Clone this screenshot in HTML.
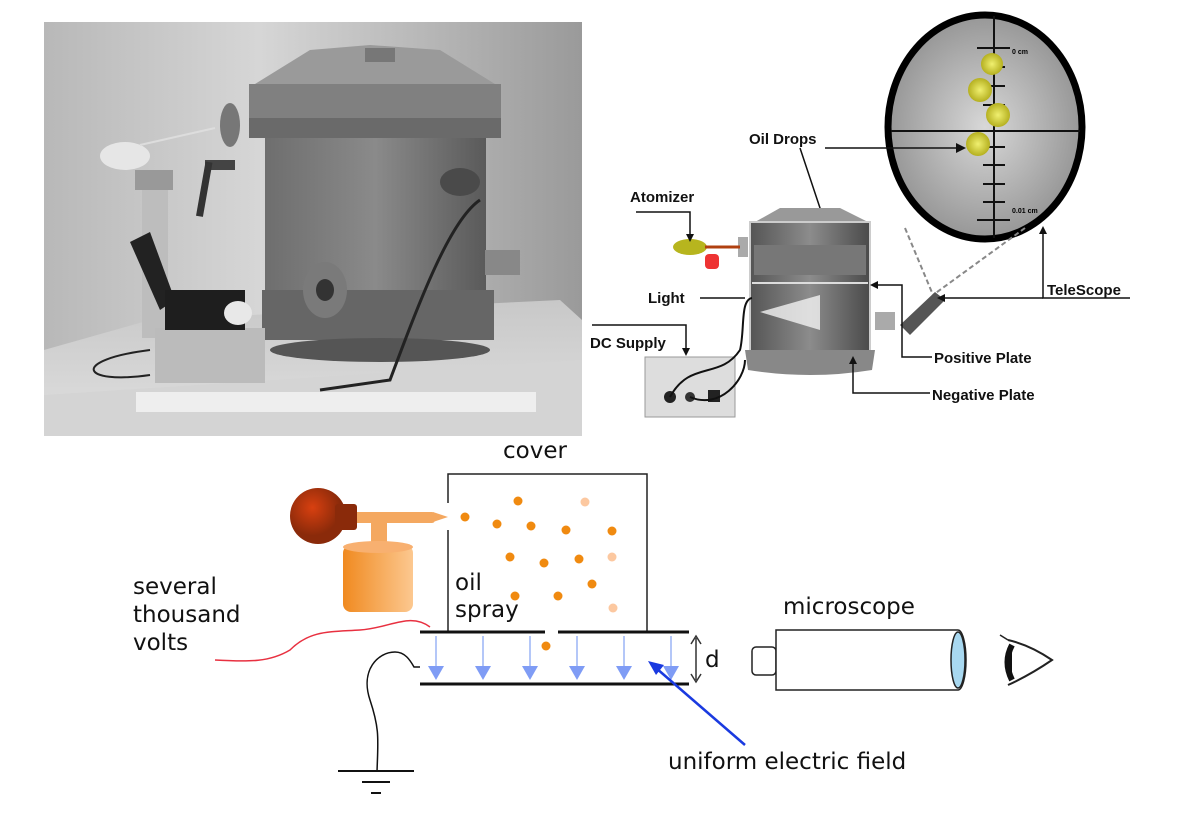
<!DOCTYPE html>
<html><head><meta charset="utf-8"><style>
html,body{margin:0;padding:0;background:#fff;}
svg{display:block;}
text{font-family:"Liberation Sans","DejaVu Sans",sans-serif;}
.b{font-family:"DejaVu Sans","Liberation Sans",sans-serif;font-size:23px;fill:#111;}
.l{font-weight:bold;font-size:15px;fill:#111;}
</style></head><body>
<svg width="1200" height="822" viewBox="0 0 1200 822" xmlns="http://www.w3.org/2000/svg">
<defs>
<linearGradient id="bg" x1="0" x2="1"><stop offset="0" stop-color="#b8b8b8"/><stop offset="0.4" stop-color="#d6d6d6"/><stop offset="1" stop-color="#9a9a9a"/></linearGradient>
<linearGradient id="cyl" x1="0" x2="1"><stop offset="0" stop-color="#6e6e6e"/><stop offset="0.5" stop-color="#8a8a8a"/><stop offset="1" stop-color="#5a5a5a"/></linearGradient>
<linearGradient id="tab" x1="0" y1="0" x2="0" y2="1"><stop offset="0" stop-color="#c8c8c8"/><stop offset="1" stop-color="#e0e0e0"/></linearGradient>
<radialGradient id="lens" cx="0.5" cy="0.5" r="0.6"><stop offset="0" stop-color="#d8d8d8"/><stop offset="1" stop-color="#8a8a8a"/></radialGradient>
<radialGradient id="drop"><stop offset="0" stop-color="#f0f070"/><stop offset="1" stop-color="#b5b020"/></radialGradient>
<radialGradient id="bulb" cx="0.4" cy="0.35"><stop offset="0" stop-color="#d84010"/><stop offset="1" stop-color="#8a2a0a"/></radialGradient>
<linearGradient id="can" x1="0" x2="1"><stop offset="0" stop-color="#f08a20"/><stop offset="1" stop-color="#fcc890"/></linearGradient>
<linearGradient id="ch" x1="0" x2="1"><stop offset="0" stop-color="#555"/><stop offset="0.5" stop-color="#8c8c8c"/><stop offset="1" stop-color="#4a4a4a"/></linearGradient>
</defs>

<!-- PHOTO -->
<rect x="44" y="22" width="538" height="414" fill="url(#bg)"/>
<polygon points="44,350 150,320 560,300 582,320 582,436 44,436" fill="url(#tab)"/>
<polygon points="44,395 582,360 582,436 44,436" fill="#d4d4d4"/>
<rect x="136" y="392" width="400" height="20" fill="#eee"/>
<rect x="249" y="84" width="252" height="44" fill="#808080"/>
<polygon points="255,84 310,50 370,45 440,50 495,84" fill="#9a9a9a"/>
<rect x="365" y="48" width="30" height="14" fill="#777"/>
<rect x="249" y="118" width="252" height="20" fill="#6a6a6a"/>
<rect x="265" y="138" width="221" height="200" fill="url(#cyl)"/>
<rect x="262" y="290" width="232" height="50" fill="#666"/>
<ellipse cx="380" cy="350" rx="110" ry="12" fill="#555"/>
<ellipse cx="230" cy="125" rx="10" ry="22" fill="#777"/>
<rect x="205" y="160" width="30" height="10" fill="#444"/>
<rect x="205" y="162" width="7" height="55" fill="#333" transform="rotate(10 208 165)"/>
<ellipse cx="125" cy="156" rx="25" ry="14" fill="#e6e6e6"/>
<line x1="140" y1="145" x2="215" y2="128" stroke="#ddd" stroke-width="2"/>
<rect x="142" y="178" width="26" height="160" fill="#bdbdbd"/>
<rect x="135" y="170" width="38" height="20" fill="#999"/>
<rect x="155" y="328" width="110" height="55" fill="#bbb"/>
<polygon points="130,242 150,232 175,300 160,310" fill="#222"/>
<rect x="165" y="290" width="80" height="40" fill="#1e1e1e"/>
<ellipse cx="238" cy="313" rx="14" ry="12" fill="#e8e8e8"/>
<ellipse cx="325" cy="290" rx="22" ry="28" fill="#7a7a7a"/>
<ellipse cx="325" cy="290" rx="9" ry="11" fill="#333"/>
<ellipse cx="460" cy="182" rx="20" ry="14" fill="#4a4a4a"/>
<rect x="485" y="250" width="35" height="25" fill="#888"/>
<path d="M480,200 C450,220 420,300 390,380 L320,390" fill="none" stroke="#222" stroke-width="3"/>
<path d="M150,350 C70,360 80,385 150,375" fill="none" stroke="#222" stroke-width="2"/>

<!-- RIGHT DIAGRAM -->
<ellipse cx="985" cy="127" rx="97" ry="112" fill="url(#lens)" stroke="#000" stroke-width="7"/>
<line x1="891" y1="131" x2="1080" y2="131" stroke="#111" stroke-width="2"/>
<line x1="994" y1="16" x2="994" y2="238" stroke="#111" stroke-width="2"/>
<g stroke="#111" stroke-width="2">
<line x1="977" y1="48" x2="1010" y2="48"/><line x1="983" y1="67" x2="1005" y2="67"/><line x1="983" y1="86" x2="1005" y2="86"/><line x1="983" y1="105" x2="1005" y2="105"/><line x1="983" y1="147" x2="1005" y2="147"/><line x1="983" y1="165" x2="1005" y2="165"/><line x1="983" y1="184" x2="1005" y2="184"/><line x1="983" y1="202" x2="1005" y2="202"/><line x1="977" y1="220" x2="1010" y2="220"/></g>
<circle cx="992" cy="64" r="11" fill="url(#drop)"/><circle cx="980" cy="90" r="12" fill="url(#drop)"/><circle cx="998" cy="115" r="12" fill="url(#drop)"/><circle cx="978" cy="144" r="12" fill="url(#drop)"/>
<text x="1012" y="54" font-size="7" font-weight="bold">0 cm</text><text x="1012" y="213" font-size="7" font-weight="bold">0.01 cm</text>
<line x1="825" y1="148" x2="958" y2="148" stroke="#111" stroke-width="1.5"/><polygon points="966,148 956,143 956,153" fill="#111"/>
<line x1="800" y1="148" x2="830" y2="238" stroke="#111" stroke-width="1.5"/>
<g stroke="#888" stroke-width="2" stroke-dasharray="5,3"><line x1="905" y1="228" x2="933" y2="295"/><line x1="1025" y1="228" x2="933" y2="295"/></g>
<!-- chamber -->
<polygon points="755,222 780,208 840,208 868,222" fill="#999"/>
<rect x="750" y="222" width="120" height="130" fill="url(#ch)" stroke="#ccc" stroke-width="2"/>
<rect x="754" y="245" width="112" height="30" fill="#777"/>
<line x1="752" y1="283" x2="868" y2="283" stroke="#ddd" stroke-width="2"/>
<polygon points="760,312 820,295 820,330" fill="#f2f2f2" opacity="0.8"/>
<path d="M745,350 L875,350 L872,370 Q810,380 748,370 Z" fill="#888"/>
<rect x="738" y="237" width="10" height="20" fill="#aaa"/>
<ellipse cx="690" cy="247" rx="17" ry="8" fill="#b7b51e"/>
<line x1="705" y1="247" x2="740" y2="247" stroke="#b04010" stroke-width="3"/>
<rect x="705" y="254" width="14" height="15" rx="4" fill="#e33"/>
<path d="M900,325 L935,292 L945,300 L910,335 Z" fill="#555"/>
<rect x="875" y="312" width="20" height="18" fill="#aaa"/>
<rect x="645" y="357" width="90" height="60" fill="#ddd" stroke="#999"/>
<circle cx="670" cy="397" r="6" fill="#222"/><circle cx="690" cy="397" r="5" fill="#333"/><rect x="708" y="390" width="12" height="12" fill="#222"/>
<path d="M670,397 C690,360 720,380 740,350 C745,330 740,300 752,298" fill="none" stroke="#111" stroke-width="2"/>
<path d="M690,397 C720,410 745,380 745,360" fill="none" stroke="#111" stroke-width="2"/>
<!-- labels -->
<g stroke="#111" stroke-width="1.5" fill="none">
<polyline points="636,212 690,212 690,236"/><line x1="700" y1="298" x2="745" y2="298"/>
<polyline points="592,325 686,325 686,350"/>
<polyline points="1130,298 1043,298 1043,232"/><line x1="1043" y1="298" x2="942" y2="298"/>
<polyline points="932,357 902,357 902,285 876,285"/>
<polyline points="930,393 853,393 853,362"/>
</g>
<g fill="#111"><polygon points="686,356 682,348 690,348"/><polygon points="690,242 686,234 694,234"/><polygon points="1043,226 1039,234 1047,234"/><polygon points="937,298 945,294 945,302"/><polygon points="870,285 878,281 878,289"/><polygon points="853,356 849,364 857,364"/></g>
<text class="l" x="749" y="144">Oil Drops</text>
<text class="l" x="630" y="202">Atomizer</text>
<text class="l" x="648" y="303">Light</text>
<text class="l" x="590" y="348">DC Supply</text>
<text class="l" x="1047" y="295">TeleScope</text>
<text class="l" x="934" y="363">Positive Plate</text>
<text class="l" x="932" y="400">Negative Plate</text>

<!-- BOTTOM DIAGRAM -->
<polyline points="448,503 448,474 647,474 647,632" fill="none" stroke="#222" stroke-width="1.5"/>
<line x1="448" y1="530" x2="448" y2="632" stroke="#222" stroke-width="1.5"/>
<line x1="420" y1="632" x2="545" y2="632" stroke="#111" stroke-width="3"/>
<line x1="558" y1="632" x2="689" y2="632" stroke="#111" stroke-width="3"/>
<line x1="420" y1="684" x2="689" y2="684" stroke="#111" stroke-width="3"/>
<g stroke="#9bb4f5" stroke-width="1.5">
<line x1="436" y1="636" x2="436" y2="668"/><line x1="483" y1="636" x2="483" y2="668"/><line x1="530" y1="636" x2="530" y2="668"/><line x1="577" y1="636" x2="577" y2="668"/><line x1="624" y1="636" x2="624" y2="668"/><line x1="671" y1="636" x2="671" y2="668"/></g>
<g fill="#7f9cf5"><polygon points="428,666 444,666 436,680"/><polygon points="475,666 491,666 483,680"/><polygon points="522,666 538,666 530,680"/><polygon points="569,666 585,666 577,680"/><polygon points="616,666 632,666 624,680"/><polygon points="663,666 679,666 671,680"/></g>
<line x1="696" y1="638" x2="696" y2="680" stroke="#333" stroke-width="1.5"/>
<polyline points="691,644 696,636 701,644" fill="none" stroke="#333" stroke-width="1.5"/>
<polyline points="691,674 696,682 701,674" fill="none" stroke="#333" stroke-width="1.5"/>
<text class="b" x="705" y="667">d</text>
<g fill="#f08a10">
<circle cx="518" cy="501" r="4.5"/><circle cx="465" cy="517" r="4.5"/><circle cx="497" cy="524" r="4.5"/><circle cx="531" cy="526" r="4.5"/><circle cx="566" cy="530" r="4.5"/><circle cx="612" cy="531" r="4.5"/><circle cx="510" cy="557" r="4.5"/><circle cx="544" cy="563" r="4.5"/><circle cx="579" cy="559" r="4.5"/><circle cx="592" cy="584" r="4.5"/><circle cx="515" cy="596" r="4.5"/><circle cx="558" cy="596" r="4.5"/><circle cx="546" cy="646" r="4.5"/></g>
<g fill="#fcc8a0"><circle cx="585" cy="502" r="4.5"/><circle cx="612" cy="557" r="4.5"/><circle cx="613" cy="608" r="4.5"/></g>
<!-- atomizer -->
<rect x="340" y="512" width="95" height="11" rx="3" fill="#f4a860"/>
<polygon points="433,512 448,517 433,522" fill="#f4a860"/>
<rect x="371" y="520" width="16" height="30" fill="#f4a860"/>
<rect x="343" y="545" width="70" height="67" rx="8" fill="url(#can)"/>
<ellipse cx="378" cy="547" rx="35" ry="6" fill="#f8b070"/>
<circle cx="318" cy="516" r="28" fill="url(#bulb)"/>
<rect x="335" y="504" width="22" height="26" rx="3" fill="#8a2a0a"/>
<!-- wires -->
<path d="M215,660 C250,662 270,662 290,650 C310,630 330,632 360,630 C390,628 410,612 430,627" fill="none" stroke="#e83040" stroke-width="1.5"/>
<path d="M420,667 L414,667 C410,660 405,652 395,652 C378,652 360,670 370,700 C380,730 378,740 377,772" fill="none" stroke="#111" stroke-width="1.5"/>
<line x1="338" y1="771" x2="414" y2="771" stroke="#111" stroke-width="2"/>
<line x1="362" y1="782" x2="390" y2="782" stroke="#111" stroke-width="2"/>
<line x1="371" y1="793" x2="381" y2="793" stroke="#111" stroke-width="2"/>
<!-- microscope -->
<rect x="752" y="647" width="24" height="28" rx="4" fill="#fff" stroke="#222" stroke-width="1.5"/>
<path d="M776,630 L958,630 A8,30 0 0 1 958,690 L776,690 Z" fill="#fff" stroke="#222" stroke-width="1.5"/>
<ellipse cx="958" cy="660" rx="7" ry="28" fill="#a8d8f0" stroke="#222" stroke-width="1.5"/>
<!-- eye -->
<path d="M1008,640 Q1030,645 1052,660 Q1030,675 1008,685" fill="none" stroke="#222" stroke-width="2"/>
<path d="M1012,645 Q1003,662 1012,680" fill="#111" stroke="#111" stroke-width="6"/>
<line x1="1008" y1="640" x2="1000" y2="635" stroke="#222" stroke-width="1.5"/>
<!-- blue arrow -->
<line x1="745" y1="745" x2="656" y2="668" stroke="#1a3ae0" stroke-width="2.5"/>
<polygon points="648,661 664,665 656,675" fill="#1a3ae0"/>
<!-- text -->
<text class="b" x="503" y="458">cover</text>
<text class="b" x="455" y="590">oil</text>
<text class="b" x="455" y="617">spray</text>
<text class="b" x="133" y="594">several</text>
<text class="b" x="133" y="622">thousand</text>
<text class="b" x="133" y="650">volts</text>
<text class="b" x="783" y="614">microscope</text>
<text class="b" x="668" y="769">uniform electric field</text>
</svg>
</body></html>
